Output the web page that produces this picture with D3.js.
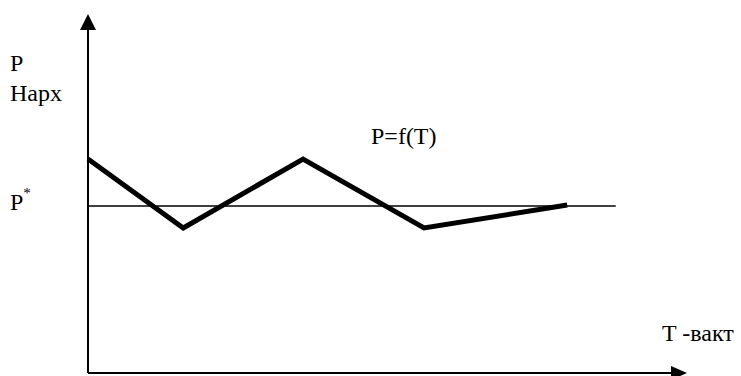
<!DOCTYPE html>
<html><head><meta charset="utf-8">
<script src="https://cdn.jsdelivr.net/npm/d3@7"></script>
<style>body{margin:0;background:#fff;font-family:"Times New Roman",serif}svg{display:block}</style>
</head><body>
<script>
// Data
const times = [0, 15.9, 35.9, 56.1, 80.0];
const prices = [59.6, 40.4, 59.6, 40.4, 46.8];
const equilibriumPrice = 46.5;
const equilibriumEnd = 88.1;
const yLabels = ["P", "Нарх"];
const xLabel = "T -вакт";
const curveLabel = "P=f(T)";

const W = 741, H = 376;
const svg = d3.select("body").append("svg").attr("width", W).attr("height", H)
  .style("font-family", "'Times New Roman', 'Liberation Serif', serif");
const x = d3.scaleLinear().domain([0, 100]).range([88, 687]);
const y = d3.scaleLinear().domain([0, 100]).range([373, 14]);

// axes
svg.append("line").attr("x1", x(0)).attr("x2", x(0)).attr("y1", y(0)).attr("y2", y(100) + 12)
  .attr("stroke", "#000").attr("stroke-width", 2);
svg.append("path").attr("d", `M${x(0)},${y(100)} L${x(0)-8},${y(100)+16} L${x(0)+8},${y(100)+16} Z`).attr("fill", "#000");
svg.append("line").attr("x1", x(0)).attr("x2", x(100) - 12).attr("y1", y(0)).attr("y2", y(0))
  .attr("stroke", "#000").attr("stroke-width", 2);
svg.append("path").attr("d", `M${x(100)},${y(0)} L${x(100)-16},${y(0)-7} L${x(100)-16},${y(0)+7} Z`).attr("fill", "#000");

// equilibrium line
svg.append("line").attr("x1", x(0)).attr("x2", x(equilibriumEnd))
  .attr("y1", y(equilibriumPrice)).attr("y2", y(equilibriumPrice))
  .attr("stroke", "#000").attr("stroke-width", 1.5);

// price curve
const pts = times.map((t, i) => [t, prices[i]]);
svg.append("path").datum(pts)
  .attr("d", d3.line().x(d => x(d[0])).y(d => y(d[1])))
  .attr("fill", "none").attr("stroke", "#000").attr("stroke-width", 5).attr("stroke-linejoin", "miter");

// labels
const labels = [
  {x: 10, y: 71, t: yLabels[0]},
  {x: 10, y: 101, t: yLabels[1]},
  {x: 371, y: 144, t: curveLabel},
  {x: 662, y: 341, t: xLabel}
];
labels.forEach(l => {
  svg.append("text").attr("x", l.x).attr("y", l.y)
    .attr("style", "font-family:'Times New Roman','Liberation Serif',serif;font-size:24px").text(l.t);
});
const ps = svg.append("text").attr("x", 10).attr("y", 210)
  .attr("style", "font-family:'Times New Roman','Liberation Serif',serif;font-size:24px");
ps.append("tspan").text("P");
ps.append("tspan").attr("style", "font-size:15px").attr("dy", -12).text("*");
</script>
</body></html>
